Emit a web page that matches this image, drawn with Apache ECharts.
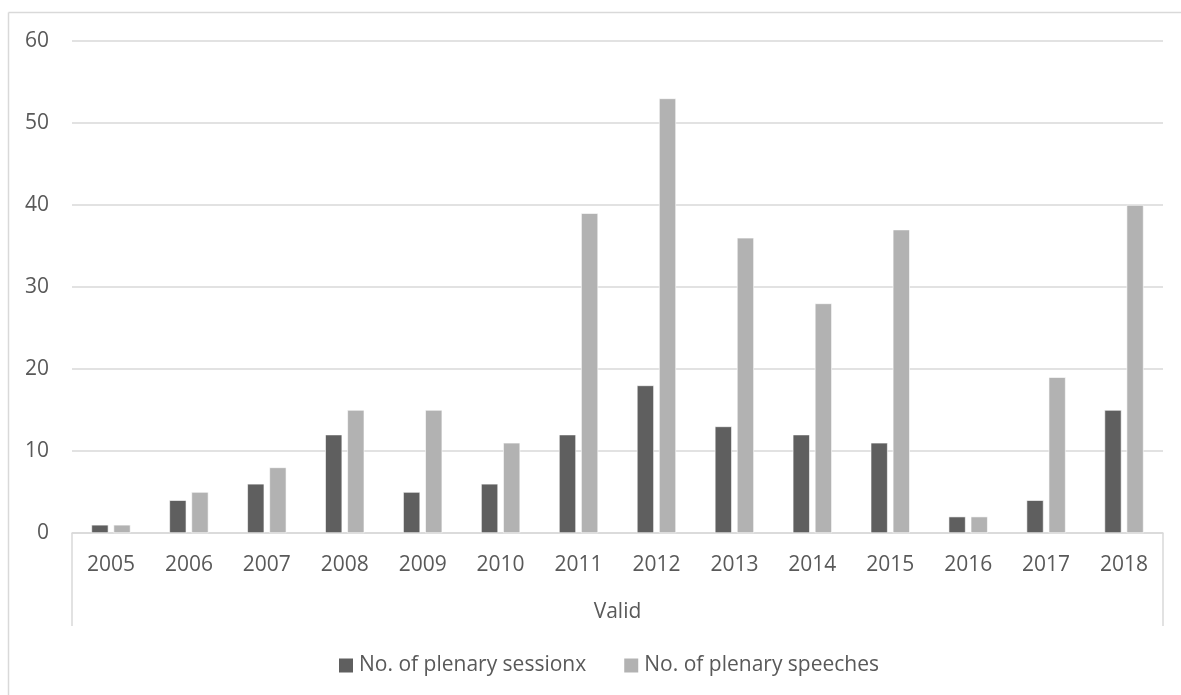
<!DOCTYPE html>
<html>
<head>
<meta charset="utf-8">
<script src="https://cdn.jsdelivr.net/npm/echarts@6/dist/echarts.min.js"></script>
<style>
  html, body { margin: 0; padding: 0; background: #ffffff; }
  #chart { width: 1181px; height: 695px; }
</style>
</head>
<body>
<div id="chart"></div>
<script>
// Years on the inner category level
const years = ['2005', '2006', '2007', '2008', '2009', '2010', '2011', '2012', '2013', '2014', '2015', '2016', '2017', '2018'];
// Outer category level
const groupLabels = ['Valid'];
// Series values
const sessions = [1, 4, 6, 12, 5, 6, 12, 18, 13, 12, 11, 2, 4, 15];
const speeches = [1, 5, 8, 15, 15, 11, 39, 53, 36, 28, 37, 2, 19, 40];
const seriesNames = ['No. of plenary sessionx', 'No. of plenary speeches'];
// Value axis range
const yMin = 0, yMax = 60, yStep = 10;

const textColor = '#595959';
const lineColor = '#d9d9d9';
const fontFamily = '"Open Sans", "Liberation Sans", sans-serif';

const chart = echarts.init(document.getElementById('chart'), null, { renderer: 'canvas' });

chart.setOption({
  animation: false,
  backgroundColor: '#ffffff',
  textStyle: { fontFamily: fontFamily, color: textColor },
  grid: { left: 72, right: 18, top: 41, bottom: 162, containLabel: false },
  legend: {
    top: 650,
    left: 334,
    itemWidth: 14,
    itemHeight: 14,
    itemGap: 38,
    icon: 'rect',
    itemStyle: { borderWidth: 0 },
    textStyle: { fontSize: 21, color: textColor, fontFamily: fontFamily, padding: [0, 0, 0, 1] },
    data: seriesNames
  },
  xAxis: [
    {
      type: 'category',
      data: years,
      position: 'bottom',
      axisLine: { show: true, lineStyle: { color: lineColor, width: 1.5 } },
      axisTick: { show: false },
      axisLabel: { fontSize: 21, color: textColor, margin: 22, fontFamily: fontFamily },
      splitLine: { show: false }
    },
    {
      type: 'category',
      data: groupLabels,
      position: 'bottom',
      boundaryGap: true,
      axisLine: { show: false },
      axisTick: { show: true, length: 93, alignWithLabel: false, lineStyle: { color: lineColor, width: 1.5 } },
      axisLabel: { fontSize: 21, color: textColor, margin: 69, fontFamily: fontFamily },
      splitLine: { show: false }
    }
  ],
  yAxis: {
    type: 'value',
    min: yMin,
    max: yMax,
    interval: yStep,
    axisLine: { show: false },
    axisTick: { show: false },
    axisLabel: { fontSize: 21, color: textColor, margin: 23, fontFamily: fontFamily },
    splitLine: { show: true, lineStyle: { color: lineColor, width: 1.5 } }
  },
  series: [
    {
      name: seriesNames[0],
      type: 'bar',
      xAxisIndex: 0,
      data: sessions,
      barWidth: 17,
      barGap: '30%',
      itemStyle: { color: '#5f5f5f', borderColor: '#ffffff', borderWidth: 0.6 }
    },
    {
      name: seriesNames[1],
      type: 'bar',
      xAxisIndex: 0,
      data: speeches,
      barWidth: 17,
      barGap: '30%',
      itemStyle: { color: '#b2b2b2', borderColor: '#ffffff', borderWidth: 0.6 }
    }
  ],
  graphic: [
    // chart frame: top and left edges
    { type: 'line', shape: { x1: 8.5, y1: 12.5, x2: 1181, y2: 12.5 }, style: { stroke: lineColor, lineWidth: 1.5 }, silent: true },
    { type: 'line', shape: { x1: 8.5, y1: 12.5, x2: 8.5, y2: 695 }, style: { stroke: lineColor, lineWidth: 1.5 }, silent: true }
  ]
});
</script>
</body>
</html>
